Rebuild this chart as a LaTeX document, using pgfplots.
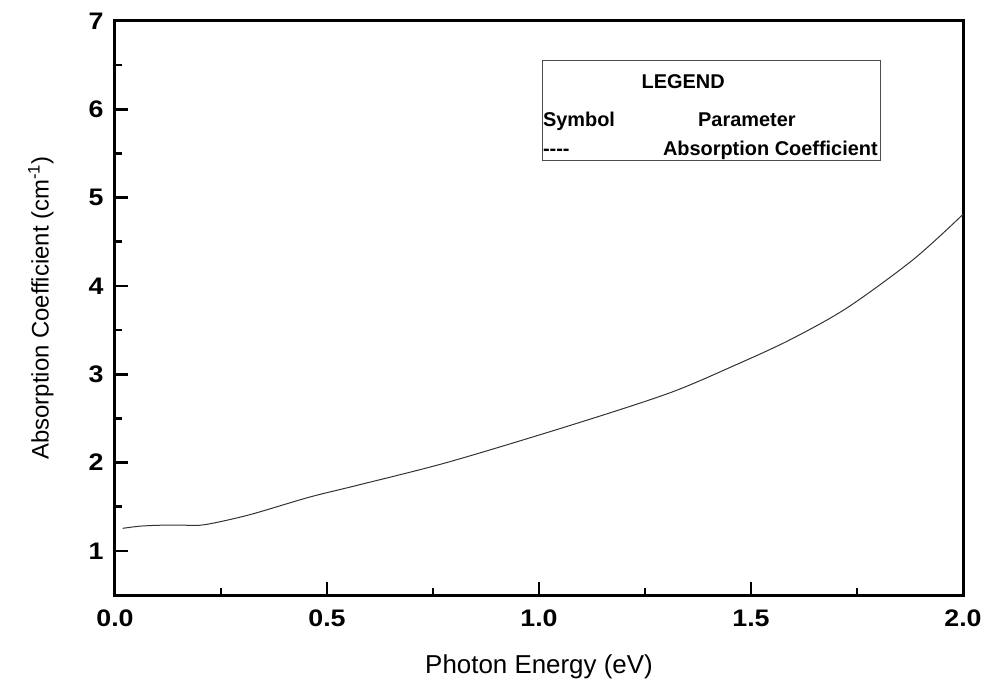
\documentclass[border=0pt]{standalone}
\usepackage{pgfplots}
\pgfplotsset{compat=1.18}
\usepackage{fontspec}
\setmainfont{Liberation Sans}
\newfontfamily\tickfont[FakeStretch=1.12]{Liberation Sans}
\begin{document}
\begin{tikzpicture}
\begin{axis}[
  scale only axis,
  width=848bp, height=574bp,
  xmin=0, xmax=2, ymin=0.5, ymax=7,
  clip=false,
  axis line style={line width=3bp},
  every tick/.style={line width=2.6bp, black},
  major tick length=13bp, minor tick length=7bp,
  tick align=inside,
  xtick pos=lower, ytick pos=lower,
  xtick={0,0.5,1,1.5,2},
  minor x tick num=1,
  ytick={1,2,3,4,5,6,7},
  minor ytick={1.5,2.5,3.5,4.5,5.5,6.5},
  /pgf/number format/assume math mode=true,
  ticklabel style={font=\tickfont\bfseries\fontsize{24}{28}\selectfont},
  xticklabel style={/pgf/number format/fixed, /pgf/number format/fixed zerofill, /pgf/number format/precision=1, anchor=base, yshift=-31bp},
  yticklabel style={xshift=-8bp},
  xlabel={Photon Energy (eV)},
  ylabel={Absorption Coefficient (cm\textsuperscript{-1})},
  xlabel style={font=\fontsize{26}{30}\selectfont, at={(axis description cs:0.5,-0.136)}, anchor=base},
  ylabel style={font=\fontsize{24}{28}\selectfont, at={(axis description cs:-0.0873,0.5)}, anchor=center},
]
\path (axis description cs:-0.13561,-0.14286) rectangle (axis description cs:1.02594,1.03659);
\addplot[smooth, line width=1bp, black!80] coordinates {
(0.018,1.255) (0.06,1.28) (0.106,1.29) (0.15,1.292) (0.2,1.29) (0.248,1.33)
(0.326,1.42) (0.46,1.61) (0.578,1.75) (0.79,2.01) (1.08,2.43) (1.309,2.79)
(1.466,3.11) (1.592,3.39) (1.726,3.75) (1.883,4.30) (2.0,4.81)
};
\draw[line width=0.8bp, black!70] (axis cs:1.007,6.553) rectangle (axis cs:1.804,5.417);
\begin{scope}[every node/.style={font=\bfseries\fontsize{20}{24}\selectfont, inner sep=0pt}]
\node[anchor=base] at (axis cs:1.340,6.235) {LEGEND};
\node[anchor=base west] at (axis cs:1.009,5.803) {Symbol};
\node[anchor=base west] at (axis cs:1.375,5.803) {Parameter};
\node[anchor=base west] at (axis cs:1.009,5.474) {-{}-{}-{}-};
\node[anchor=base west] at (axis cs:1.292,5.474) {Absorption Coefficient};
\end{scope}
\end{axis}
\end{tikzpicture}
\end{document}
